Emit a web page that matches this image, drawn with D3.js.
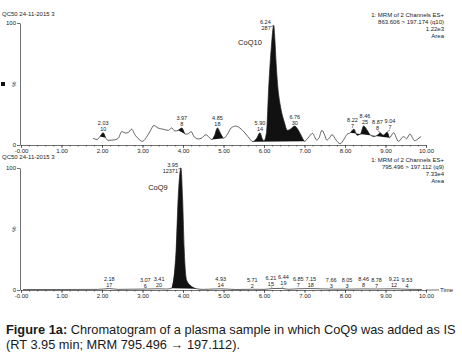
<!DOCTYPE html>
<html>
  <head>
    <title>Chromatogram CoQ9 / CoQ10</title>
    <style>
      html,
      body {
        margin: 0;
        padding: 0;
        background: #fff;
      }

      #viz {
        width: 462px;
        height: 362px;
      }

      text {
        font-family: "Liberation Sans", Arial, sans-serif;
        fill: #222;
      }
    </style>
  </head>
  <body>
    <div id="viz"></div>
    <script src="https://d3js.org/d3.v7.min.js"></script>

    <script>
      // ---- data ----
      const sampleName = "QC50 24-11-2015 3";
      const xTicks = [0, 1, 2, 3, 4, 5, 6, 7, 8, 9, 10];
      const yTicks = [0, 100];

      const topHeader = ["1: MRM of 2 Channels ES+", "863.606 > 197.174 (q10)", "1.22e3", "Area"];
      const bottomHeader = ["1: MRM of 2 Channels ES+", "795.496 > 197.112 (q9)", "7.33e4", "Area"];

      // [time (min), intensity (%)]
      const topTrace = [
        [1.78, 5.5], [1.88, 4.5], [1.95, 7], [2.03, 10], [2.09, 6], [2.15, 3.8],
        [2.3, 4.2], [2.4, 5.5], [2.49, 11], [2.58, 9.8], [2.66, 10.5], [2.73, 13],
        [2.82, 8], [2.92, 4.5], [3.0, 3], [3.12, 7.5], [3.2, 12], [3.28, 16],
        [3.38, 14], [3.5, 13], [3.64, 12], [3.72, 14], [3.8, 11.5], [3.88, 12],
        [3.97, 14], [4.05, 9], [4.12, 9], [4.2, 11], [4.28, 6.5], [4.38, 5],
        [4.45, 5.5], [4.57, 8.5], [4.65, 6], [4.72, 4.5], [4.78, 8], [4.85, 14],
        [4.92, 10], [5.0, 5.5], [5.1, 9], [5.19, 14], [5.3, 15.5], [5.4, 14],
        [5.5, 11], [5.6, 7], [5.73, 2.7], [5.82, 5.5], [5.9, 10], [5.96, 5],
        [6.0, 3.5], [6.06, 10], [6.12, 50], [6.18, 80], [6.24, 98], [6.27, 86],
        [6.3, 67], [6.34, 48], [6.4, 33], [6.5, 19], [6.58, 12], [6.65, 13],
        [6.76, 15.5], [6.85, 12], [6.93, 7], [7.0, 3], [7.08, 5.5], [7.2, 9.5],
        [7.3, 4], [7.36, 6], [7.43, 12], [7.5, 8], [7.55, 4], [7.62, 6],
        [7.68, 8.5], [7.78, 4], [7.88, 1], [7.98, 5], [8.05, 8.7], [8.13, 10],
        [8.22, 13], [8.3, 8], [8.38, 9], [8.46, 15.6], [8.55, 12], [8.63, 8],
        [8.72, 7], [8.8, 8], [8.87, 10], [8.94, 8], [9.04, 10.5], [9.1, 6],
        [9.2, 10], [9.32, 3], [9.45, 7], [9.52, 5], [9.6, 9], [9.72, 3.5],
        [9.8, 5], [9.88, 7],
      ];
      const bottomTrace = [
        [0.05, 0.4], [1.0, 0.4], [1.9, 0.5], [2.18, 1.2], [2.4, 0.5], [3.07, 0.8],
        [3.41, 1.0], [3.6, 0.8], [3.72, 1.5], [3.83, 33], [3.88, 75], [3.95, 100],
        [3.99, 75], [4.03, 33], [4.09, 8], [4.21, 3], [4.34, 1], [4.5, 0.5],
        [4.93, 1], [5.3, 0.4], [5.71, 0.6], [6.0, 0.5], [6.21, 1.2], [6.44, 1.3],
        [6.6, 0.6], [6.85, 1.0], [7.15, 1.2], [7.66, 0.7], [8.05, 0.7], [8.46, 0.9],
        [8.78, 0.8], [9.21, 1.0], [9.53, 0.6], [9.9, 0.4],
      ];

      // integrated windows [start, end] (min)
      const topWindows = [[1.95, 2.09], [3.88, 4.05], [4.72, 5.0], [5.73, 7.0], [8.13, 9.1]];
      const bottomWindows = [[3.72, 4.34]];

      const topPeakRt = ["2.03", "3.97", "4.85", "5.90", "6.24", "6.76", "8.22", "8.46", "8.87", "9.04"];
      const topPeakArea = ["10", "8", "18", "14", "287", "30", "7", "25", "8", "7"];
      const bottomPeakRt = ["2.18", "3.07", "3.41", "3.95", "4.93", "5.71", "6.21", "6.44", "6.85", "7.15", "7.66", "8.05", "8.46", "8.78", "9.21", "9.53"];
      const bottomPeakArea = ["17", "6", "20", "12371", "14", "2", "15", "19", "7", "18", "3", "3", "8", "7", "12", "4"];

      const captionBold = "Figure 1a:";
      const captionRest = " Chromatogram of a plasma sample in which CoQ9 was added as IS";
      const captionLine2 = "(RT 3.95 min; MRM 795.496 \u2192 197.112).";

      // ---- drawing ----
      const svg = d3.select("#viz").append("svg").attr("width", 462).attr("height", 362);

      const x = d3.scaleLinear().domain([0, 10]).range([21, 426]);
      const fmt = (d) => (d === 0 ? "-0.00" : d3.format(".2f")(d));
      const labelSize = 5.5;
      const textW = (s) => s.length * labelSize * 0.5;

      const drawPanel = (cfg) => {
        const y = d3.scaleLinear().domain([0, 100]).range([cfg.y0, cfg.y100]);
        const g = svg.append("g");

        // minor + major x ticks
        g.append("g")
          .attr("transform", `translate(0,${cfg.y0})`)
          .call(d3.axisBottom(x).tickValues(d3.range(0, 10.01, 0.2)).tickSize(1.5).tickSizeOuter(0).tickFormat(""))
          .call((a) => a.selectAll("line,path").attr("stroke", "#333").attr("stroke-width", 0.7));

        g.append("g")
          .attr("transform", `translate(0,${cfg.y0})`)
          .call(d3.axisBottom(x).tickValues(xTicks).tickSize(3).tickSizeOuter(0).tickPadding(1).tickFormat(fmt))
          .call((a) => {
            a.select(".domain").remove();
            a.selectAll("line").attr("stroke", "#333").attr("stroke-width", 0.7);
            a.selectAll("text").attr("font-size", 6).attr("font-family", null);
          });

        g.append("g")
          .attr("transform", `translate(${x(0) - 1},0)`)
          .call(d3.axisLeft(y).tickValues(yTicks).tickSize(3).tickSizeOuter(0).tickPadding(1))
          .call((a) => {
            a.selectAll("line,path").attr("stroke", "#333").attr("stroke-width", 0.7);
            a.selectAll("text").attr("font-size", 6).attr("font-family", null);
          });

        g.append("text")
          .attr("transform", `translate(${x(0) - 5},${y(50)}) rotate(-90)`)
          .attr("text-anchor", "middle")
          .attr("font-size", 6)
          .text("%");

        const line = d3
          .line()
          .x((d) => x(d[0]))
          .y((d) => y(d[1]))
          .curve(d3.curveMonotoneX);

        // filled (integrated) peaks, closed along the chord
        g.selectAll(".fill")
          .data(cfg.windows)
          .enter()
          .append("path")
          .attr("d", (w) => line(cfg.trace.filter((p) => p[0] >= w[0] - 1e-9 && p[0] <= w[1] + 1e-9)) + "Z")
          .attr("fill", "#111");

        g.append("path")
          .attr("d", line(cfg.trace))
          .attr("fill", "none")
          .attr("stroke", "#222")
          .attr("stroke-width", 0.7);

        // peak labels
        const peaks = cfg.rt.map((rt, i) => {
          const t = +rt;
          const p = cfg.trace.reduce((a, b) => (Math.abs(b[0] - t) < Math.abs(a[0] - t) ? b : a));
          const w = Math.max(textW(rt), textW(cfg.area[i]));
          return { rt, area: cfg.area[i], t, v: p[1], big: p[1] > 80, lx: x(t), w };
        });

        // push small labels apart so neighbours do not collide
        const small = peaks.filter((d) => !d.big);
        for (let k = 0; k < 30; k++) {
          for (let i = 1; i < small.length; i++) {
            const a = small[i - 1], b = small[i];
            const gap = (a.w + b.w) / 2 + 1.5;
            const over = gap - (b.lx - a.lx);
            if (over > 0) {
              a.lx -= over / 2;
              b.lx += over / 2;
            }
          }
        }

        const lab = g.selectAll(".lab").data(peaks).enter().append("g");
        lab.each(function (d) {
          const s = d3.select(this);
          const ax = x(d.t), ay = y(d.v);
          const lx = d.big ? ax - 3 : d.lx;
          const shifted = Math.abs(lx - ax) > 1.5;
          const ly = d.big ? ay + 5 : Math.min(ay - (shifted ? 3 : 1.5), cfg.y0 - 2.5);
          const anchor = d.big ? "end" : "middle";
          s.append("text").attr("x", lx).attr("y", ly - 6).attr("text-anchor", anchor).attr("font-size", labelSize).text(d.rt);
          s.append("text").attr("x", lx).attr("y", ly).attr("text-anchor", anchor).attr("font-size", labelSize).text(d.area);
          if (d.big) {
            s.append("line")
              .attr("x1", lx + 0.5).attr("x2", ax)
              .attr("y1", ay + 1).attr("y2", ay)
              .attr("stroke", "#222").attr("stroke-width", 0.6);
          } else if (shifted) {
            s.append("line")
              .attr("x1", lx).attr("x2", ax)
              .attr("y1", ly + 1).attr("y2", Math.min(ay, cfg.y0) - 0.5)
              .attr("stroke", "#222").attr("stroke-width", 0.5);
          }
        });

        // headers
        g.append("text").attr("x", 2).attr("y", cfg.titleY).attr("font-size", 6).text(sampleName);
        g.selectAll(".hdr")
          .data(cfg.header)
          .enter()
          .append("text")
          .attr("x", 444)
          .attr("y", (d, i) => cfg.headerY + i * 7)
          .attr("text-anchor", "end")
          .attr("font-size", 6)
          .text((d) => d);

        g.append("text")
          .attr("x", cfg.nameX)
          .attr("y", cfg.nameY)
          .attr("text-anchor", "middle")
          .attr("font-size", 7.5)
          .text(cfg.name);

        return g;
      };

      const topPanel = drawPanel({
        y0: 145, y100: 23, trace: topTrace, windows: topWindows,
        rt: topPeakRt, area: topPeakArea, header: topHeader,
        titleY: 16, headerY: 17, name: "CoQ10", nameX: 250, nameY: 45,
      });
      topPanel.append("rect").attr("x", 1).attr("y", 82).attr("width", 4).attr("height", 4).attr("fill", "#111");

      const bottomPanel = drawPanel({
        y0: 290, y100: 168, trace: bottomTrace, windows: bottomWindows,
        rt: bottomPeakRt, area: bottomPeakArea, header: bottomHeader,
        titleY: 159, headerY: 162, name: "CoQ9", nameX: 158, nameY: 190,
      });
      bottomPanel.append("line")
        .attr("x1", x(10)).attr("x2", x(10) + 13)
        .attr("y1", 290).attr("y2", 290)
        .attr("stroke", "#333").attr("stroke-width", 0.7);
      bottomPanel.append("text").attr("x", x(10) + 14).attr("y", 292).attr("font-size", 6).text("Time");

      // caption
      const cap = svg.append("text").attr("x", 6).attr("y", 334).attr("font-size", 12.8).style("fill", "#1a1a1a");
      cap.append("tspan").attr("font-weight", "bold").text(captionBold);
      cap.append("tspan").text(captionRest);
      svg.append("text").attr("x", 6).attr("y", 349).attr("font-size", 12.8).style("fill", "#1a1a1a").text(captionLine2);
    </script>
  </body>
</html>
